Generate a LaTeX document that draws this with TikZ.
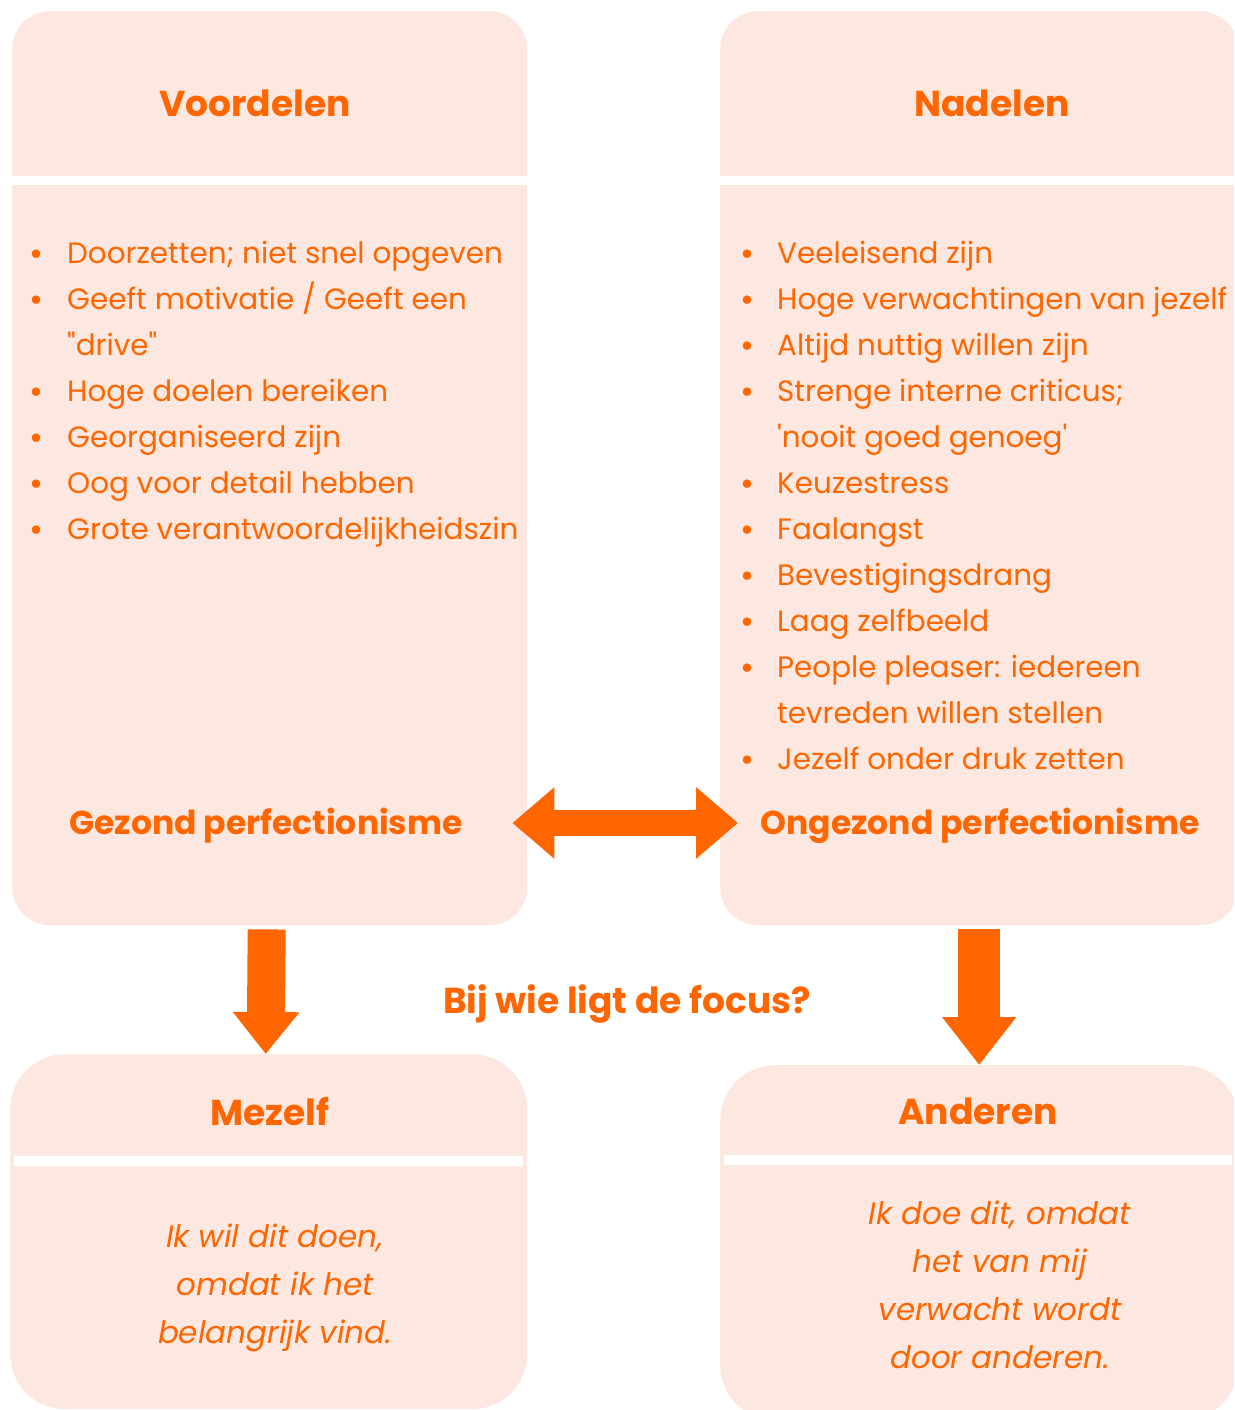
\documentclass[tikz,border=0pt]{standalone}
\usepackage{fontspec}
\newfontfamily\popfont{Poppins}
\usepackage{tikz}
\usetikzlibrary{arrows.meta, positioning, calc}

\definecolor{peach}{HTML}{FCE7E1}
\definecolor{tangerine}{HTML}{FF6600}

\begin{document}
\begin{tikzpicture}[x=1pt, y=-1pt,
      panel/.style={fill=peach, inner sep=0pt, anchor=north west},
      headtext/.style={text=tangerine, font=\popfont\bfseries\fontsize{36}{40}\selectfont, inner sep=0pt, anchor=base},
      listtext/.style={text=tangerine, font=\popfont\fontsize{29.4}{36}\selectfont, inner sep=0pt, anchor=base west},
      bulletmark/.style={text=tangerine, font=\popfont\fontsize{34}{36}\selectfont, inner sep=0pt, anchor=base},
      remark/.style={text=tangerine, font=\popfont\itshape\fontsize{31}{48}\selectfont, align=center, inner sep=0pt},
      separator/.style={fill=white},
      fatarrow/.style={draw=tangerine, fill=tangerine}
    ]

      \path[use as bounding box, clip] (0,0) rectangle (1234,1410);

      % Top panels, split in a header and a list by a white strip
      \node[panel, rounded corners=38pt, minimum width=515pt, minimum height=914pt] (voordelen_box) at (12,11) {};
      \node[panel, rounded corners=38pt, minimum width=518pt, minimum height=914pt] (nadelen_box) at (720,11) {};
      \fill[separator] ([yshift=-165pt]voordelen_box.north west) rectangle ([yshift=-174pt]voordelen_box.north east);
      \fill[separator] ([yshift=-165pt]nadelen_box.north west) rectangle ([yshift=-174pt]nadelen_box.north east);

      % Bottom panels
      \node[panel, rounded corners=55pt, minimum width=517pt, minimum height=355pt] (mezelf_box) at (10,1054) {};
      \node[panel, rounded corners=55pt, minimum width=518pt, minimum height=355pt] (anderen_box) at (720,1065) {};
      \fill[separator] ([xshift=4pt, yshift=-102pt]mezelf_box.north west) rectangle ([xshift=-4pt, yshift=-112pt]mezelf_box.north east);
      \fill[separator] ([xshift=4pt, yshift=-90pt]anderen_box.north west) rectangle ([xshift=-6pt, yshift=-100pt]anderen_box.north east);

      % Headers
      \node[headtext] (voordelen) at (255,117) {Voordelen};
      \node[headtext] (nadelen) at (992,117) {Nadelen};
      \node[headtext] (mezelf) at (270,1125) {Mezelf};
      \node[headtext] (anderen) at (978,1124) {Anderen};

      % Left list, one line per node
      \def\pitch{46}
      \foreach \txt [count=\i from 0] in {Doorzetten; niet snel opgeven, {Geeft motivatie / Geeft een}, "drive", Hoge doelen bereiken, Georganiseerd zijn, Oog voor detail hebben, Grote verantwoordelijkheidszin} {
        \node[listtext] (voor_\i) at (67, 263+\pitch*\i) {\txt};
      }
      \foreach \i in {0,1,3,4,5,6} {
        \node[bulletmark] at ([xshift=-30pt, yshift=-2pt]voor_\i.base west) {\textbullet};
      }

      % Right list
      \foreach \txt [count=\i from 0] in {Veeleisend zijn, Hoge verwachtingen van jezelf, Altijd nuttig willen zijn, Strenge interne criticus;, 'nooit goed genoeg', Keuzestress, Faalangst, Bevestigingsdrang, Laag zelfbeeld, People pleaser: iedereen, tevreden willen stellen, Jezelf onder druk zetten} {
        \node[listtext] (na_\i) at (777, 263+\pitch*\i) {\txt};
      }
      \foreach \i in {0,1,2,3,5,6,7,8,9,11} {
        \node[bulletmark] at ([xshift=-30pt, yshift=-2pt]na_\i.base west) {\textbullet};
      }

      % Labels at the bottom of the top panels
      \node[headtext, font=\popfont\bfseries\fontsize{33}{38}\selectfont] (gezond) at (266,834) {Gezond perfectionisme};
      \node[headtext, font=\popfont\bfseries\fontsize{33}{38}\selectfont] (ongezond) at (980,834) {Ongezond perfectionisme};
      \node[headtext] (focus) at (627,1013) {Bij wie ligt de focus?};

      % Quotes in the bottom panels
      \node[remark] (mezelf_quote) at (275,1288) {Ik wil dit doen,\\omdat ik het\\belangrijk vind.};
      \node[remark] (anderen_quote) at (1000,1285) {Ik doe dit, omdat\\het van mij\\verwacht wordt\\door anderen.};

      % Arrows
      \coordinate (arrow_mid) at (625,823);
      \draw[fatarrow, line width=26pt, {Triangle[length=42pt, width=69pt]}-{Triangle[length=42pt, width=69pt]}]
        ([xshift=-15pt]voordelen_box.east |- arrow_mid) -- ([xshift=18pt]nadelen_box.west |- arrow_mid);
      \draw[fatarrow, line width=38pt, -{Triangle[length=42pt, width=64pt]}]
        ([xshift=-3pt, yshift=-4pt]voordelen_box.south) -- ([xshift=-3pt]mezelf_box.north);
      \draw[fatarrow, line width=42pt, -{Triangle[length=48pt, width=71pt]}]
        ([yshift=-4pt]nadelen_box.south) -- (anderen_box.north);

    \end{tikzpicture}
\end{document}
